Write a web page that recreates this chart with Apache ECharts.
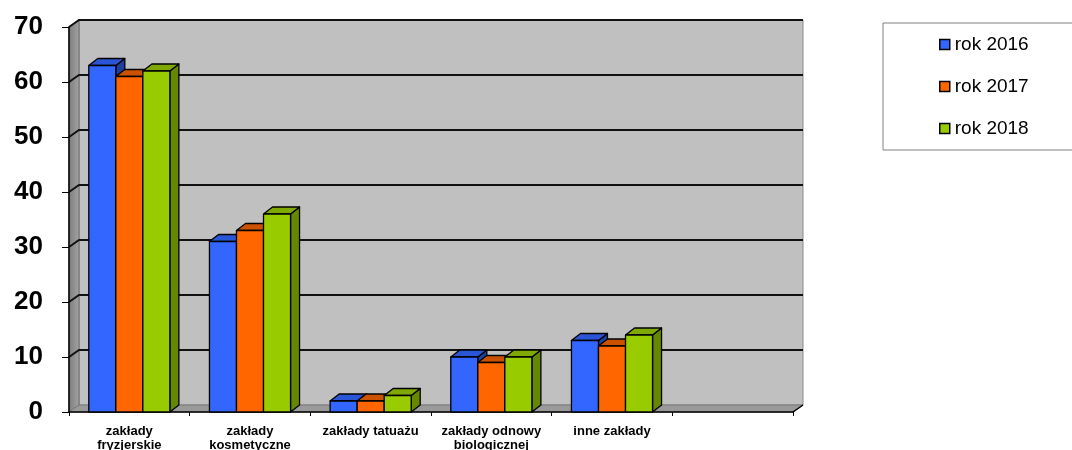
<!DOCTYPE html>
<html>
<head>
<meta charset="utf-8">
<script src="https://cdn.jsdelivr.net/npm/echarts@6/dist/echarts.min.js"></script>
<style>
  html, body { margin: 0; padding: 0; background: #ffffff; }
  #chart { width: 1072px; height: 450px; }
</style>
</head>
<body>
<div id="chart"></div>
<script>
// Kategorie zakładów (ostatnia kolumna osi pozostaje pusta)
const categories = [
  'zakłady\nfryzjerskie',
  'zakłady\nkosmetyczne',
  'zakłady tatuażu',
  'zakłady odnowy\nbiologicznej',
  'inne zakłady',
  ''
];
const seriesNames = ['rok 2016', 'rok 2017', 'rok 2018'];
const values2016 = [63, 31, 2, 10, 13];
const values2017 = [61, 33, 2, 9, 12];
const values2018 = [62, 36, 3, 10, 14];
const yTicks = [0, 10, 20, 30, 40, 50, 60, 70];

// Kolory ścian przednich, górnych i bocznych słupków
const palettes = [
  { front: '#3366ff', top: '#2a55d6', side: '#1f3f9e' },
  { front: '#ff6600', top: '#cc5200', side: '#993d00' },
  { front: '#99cc00', top: '#7fa800', side: '#668800' }
];

// Przesunięcie głębi: ściany tylnej i słupków
const WALL_DX = 10, WALL_DY = 7;
const BAR_DX = 9, BAR_DY = 7;
const BAR_RATIO = 0.224;

function wallsRenderer(params, api) {
  const cs = params.coordSys;
  const left = cs.x, right = cs.x + cs.width;
  const y0 = api.coord([0, 0])[1];
  const yMax = api.coord([0, yTicks[yTicks.length - 1]])[1];
  const children = [];
  // ściana tylna
  children.push({
    type: 'rect',
    shape: { x: left + WALL_DX, y: yMax - WALL_DY, width: cs.width, height: y0 - yMax },
    style: { fill: '#c0c0c0', stroke: '#8a8a8a', lineWidth: 1 }
  });
  // ściana lewa
  children.push({
    type: 'polygon',
    shape: { points: [[left, y0], [left, yMax], [left + WALL_DX, yMax - WALL_DY], [left + WALL_DX, y0 - WALL_DY]] },
    style: {
      fill: new echarts.graphic.LinearGradient(0, 0, 1, 0, [
        { offset: 0, color: '#7c7c7c' }, { offset: 1, color: '#a4a4a4' }
      ]),
      stroke: '#6a6a6a', lineWidth: 1
    }
  });
  // podłoga
  children.push({
    type: 'polygon',
    shape: { points: [[left, y0], [right, y0], [right + WALL_DX, y0 - WALL_DY], [left + WALL_DX, y0 - WALL_DY]] },
    style: { fill: '#9a9a9a', stroke: '#7a7a7a', lineWidth: 1 }
  });
  // linie siatki na ścianie tylnej i lewej
  yTicks.forEach(function (t) {
    if (t === 0) return;
    const y = api.coord([0, t])[1];
    children.push({
      type: 'polyline',
      shape: { points: [[left, y], [left + WALL_DX, y - WALL_DY], [right + WALL_DX, y - WALL_DY]] },
      style: { stroke: '#111111', lineWidth: 2, fill: null }
    });
  });
  // skośna krawędź na końcu osi X
  children.push({
    type: 'line',
    shape: { x1: right, y1: y0, x2: right + WALL_DX, y2: y0 - WALL_DY },
    style: { stroke: '#000000', lineWidth: 1.5 }
  });
  return { type: 'group', children: children };
}

function barRenderer(si) {
  const pal = palettes[si];
  return function (params, api) {
    const top = api.coord([api.value(0), api.value(1)]);
    const base = api.coord([api.value(0), 0]);
    const cw = api.size([1, 0])[0];
    const bw = cw * BAR_RATIO;
    const x0 = top[0] - 1.5 * bw + si * bw;
    const x1 = x0 + bw;
    const yT = top[1], yB = base[1];
    const stroke = { stroke: '#000000', lineWidth: 1.3, lineJoin: 'round' };
    return {
      type: 'group',
      children: [
        {
          type: 'polygon',
          shape: { points: [[x1, yT], [x1 + BAR_DX, yT - BAR_DY], [x1 + BAR_DX, yB - BAR_DY], [x1, yB]] },
          style: Object.assign({ fill: pal.side }, stroke)
        },
        {
          type: 'polygon',
          shape: { points: [[x0, yT], [x0 + BAR_DX, yT - BAR_DY], [x1 + BAR_DX, yT - BAR_DY], [x1, yT]] },
          style: Object.assign({ fill: pal.top }, stroke)
        },
        {
          type: 'rect',
          shape: { x: x0, y: yT, width: bw, height: yB - yT },
          style: Object.assign({ fill: pal.front }, stroke)
        }
      ]
    };
  };
}

const allValues = [values2016, values2017, values2018];

const barSeries = allValues.map(function (vals, si) {
  return {
    name: seriesNames[si],
    type: 'custom',
    z: 2,
    clip: false,
    itemStyle: { color: palettes[si].front },
    encode: { x: 0, y: 1 },
    data: vals.map(function (v, i) { return [i, v]; }),
    renderItem: barRenderer(si)
  };
});

const chart = echarts.init(document.getElementById('chart'), null, { renderer: 'canvas' });

chart.setOption({
  animation: false,
  backgroundColor: '#ffffff',
  color: palettes.map(function (p) { return p.front; }),
  grid: { left: 69, right: 279, top: 27, bottom: 38, containLabel: false, outerBoundsMode: 'none' },
  legend: {
    data: seriesNames,
    orient: 'vertical',
    left: 883,
    top: 23,
    icon: 'rect',
    itemWidth: 10,
    itemHeight: 10,
    itemGap: 23,
    padding: [12, 47, 12, 56],
    backgroundColor: '#ffffff',
    borderColor: '#808080',
    borderWidth: 1,
    borderRadius: 0,
    itemStyle: { borderColor: '#000000', borderWidth: 1.5 },
    textStyle: { fontFamily: 'Liberation Sans, Arial, sans-serif', fontSize: 19, color: '#000000' }
  },
  xAxis: {
    type: 'category',
    data: categories,
    z: 1,
    axisLine: { show: true, lineStyle: { color: '#000000', width: 1.5 } },
    axisTick: { show: true, length: 4, lineStyle: { color: '#000000', width: 1 } },
    axisLabel: {
      interval: 0,
      margin: 12,
      color: '#000000',
      fontFamily: 'Liberation Sans, Arial, sans-serif',
      fontWeight: 'bold',
      fontSize: 13,
      lineHeight: 14
    },
    splitLine: { show: false }
  },
  yAxis: {
    type: 'value',
    min: 0,
    max: 70,
    interval: 10,
    z: 1,
    axisLine: { show: true, lineStyle: { color: '#000000', width: 1.5 } },
    axisTick: { show: true, inside: false, length: 7, lineStyle: { color: '#000000', width: 1 } },
    axisLabel: {
      margin: 26,
      padding: [6, 0, 0, 0],
      color: '#000000',
      fontFamily: 'Liberation Sans, Arial, sans-serif',
      fontWeight: 'bold',
      fontSize: 26
    },
    splitLine: { show: false }
  },
  series: [
    {
      name: 'sciany',
      type: 'custom',
      z: 0,
      clip: false,
      silent: true,
      encode: { x: 0, y: 1 },
      data: [[0, 0]],
      renderItem: wallsRenderer
    }
  ].concat(barSeries)
});
</script>
</body>
</html>
